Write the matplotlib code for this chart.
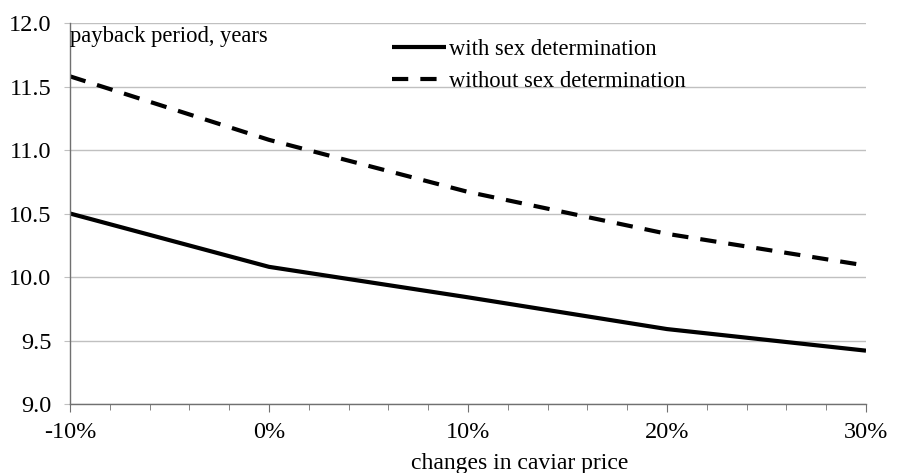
import matplotlib
matplotlib.use("Agg")
import matplotlib.pyplot as plt
from matplotlib.ticker import MultipleLocator, FuncFormatter

price_change = [-10, 0, 10, 20, 30]
with_sex = [10.50, 10.08, 9.84, 9.59, 9.42]
without_sex = [11.58, 11.08, 10.67, 10.34, 10.09]

plt.rcParams["font.family"] = ["Liberation Serif", "DejaVu Serif"]

fig = plt.figure(figsize=(8.99, 4.73), dpi=100)
ax = fig.add_axes([70 / 899, 1 - 404 / 473, 796 / 899, 381 / 473])

ax.plot(price_change, with_sex, color="black", lw=3.0,
        solid_capstyle="butt", label="with sex determination")
ax.plot(price_change, without_sex, color="black", lw=3.0,
        dashes=(3.9, 2.9), dash_capstyle="butt", label="without sex determination")

ax.set_xlim(-10, 30)
ax.set_ylim(9.0, 12.0)
ax.xaxis.set_major_locator(MultipleLocator(10))
ax.xaxis.set_minor_locator(MultipleLocator(2))
ax.yaxis.set_major_locator(MultipleLocator(0.5))
ax.xaxis.set_major_formatter(FuncFormatter(lambda v, p: f"{v:.0f}%"))
ax.yaxis.set_major_formatter(FuncFormatter(lambda v, p: f"{v:.1f}"))

ax.grid(axis="y", color="#c0c0c0", lw=1.0)
ax.set_axisbelow(True)
for s in ["top", "right"]:
    ax.spines[s].set_visible(False)
for s in ["left", "bottom"]:
    ax.spines[s].set_color("#707070")
    ax.spines[s].set_linewidth(1.0)

ax.tick_params(axis="x", which="major", length=6, color="#707070", labelsize=17.5, pad=7)
ax.tick_params(axis="x", which="minor", length=4, color="#707070")
ax.tick_params(axis="y", length=4, color="#c0c0c0", labelsize=17.5, pad=9.5)

ax.text(0.0, 0.993, "payback period, years", transform=ax.transAxes,
        ha="left", va="top", fontsize=16.3)
ax.set_xlabel("changes in caviar price", fontsize=17, x=0.565, labelpad=7)

ax.legend(loc="upper left", bbox_to_anchor=(0.405, 0.957), frameon=False,
          fontsize=16.3, handlelength=2.35, handletextpad=0.15,
          labelspacing=0.46, borderaxespad=0, borderpad=0)

fig.savefig("out.png", dpi=100)
